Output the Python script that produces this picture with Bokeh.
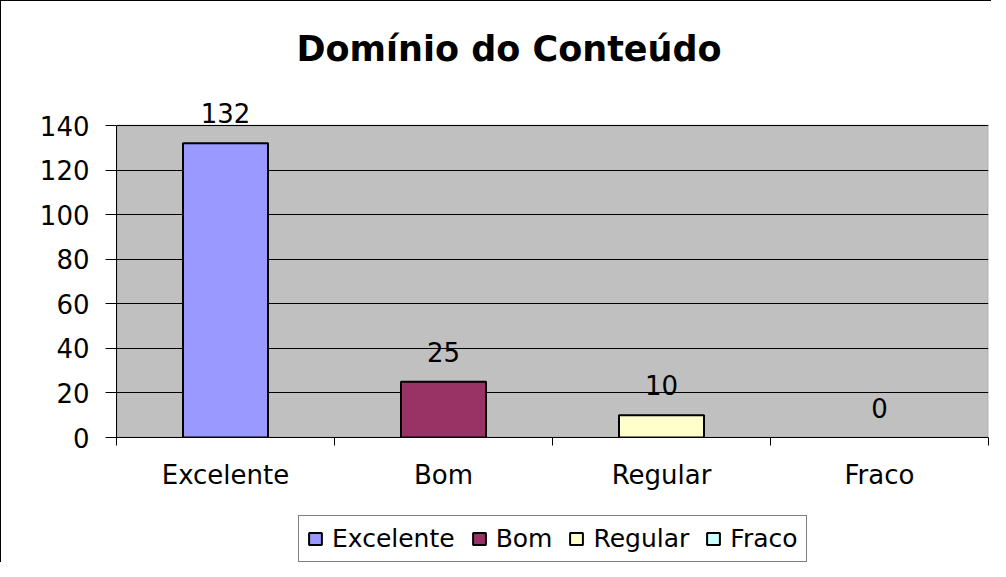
from bokeh.plotting import figure
from bokeh.layouts import column
from bokeh.models import (ColumnDataSource, Range1d, FixedTicker, Legend, LegendItem,
                          LabelSet, BoxAnnotation)
from bokeh.core.properties import value
from bokeh.embed import file_html
from bokeh.resources import INLINE

categories = ["Excelente", "Bom", "Regular", "Fraco"]
counts = [132, 25, 10, 0]
colors = ["#9999FF", "#993366", "#FFFFCC", "#CCFFFF"]
y_ticks = [0, 20, 40, 60, 80, 100, 120, 140]
title_text = "Domínio do Conteúdo"

FONT = "DejaVu Sans"

xs = [i + 0.5 for i in range(len(categories))]
src = ColumnDataSource(dict(x=xs, top=counts, color=colors, cat=categories,
                            lbl=[str(c) for c in counts],
                            la=[1.0 if c > 0 else 0.0 for c in counts]))

# geometry (pixels)
W = 990
AREA_H = 312          # height of the grey plotting area (0..140)
HEADROOM = 32         # space above the grey area for value labels
Y_MAX = y_ticks[-1]
y_top = Y_MAX + HEADROOM * Y_MAX / AREA_H

p = figure(width=W, height=496, output_backend="svg", toolbar_location=None,
           x_range=Range1d(0, len(categories)), y_range=Range1d(0, y_top),
           min_border_left=115, min_border_right=3, min_border_top=92,
           min_border_bottom=60)

p.title.text = title_text
p.title.text_font = FONT
p.title.text_font_size = "35px"
p.title.text_font_style = "bold"
p.title.text_color = "black"
p.title.align = "left"
p.title.offset = 180
p.title.standoff = 50

p.background_fill_color = "white"
p.border_fill_color = "white"
p.outline_line_color = None

# grey plotting area 0..140
area = BoxAnnotation(bottom=0, top=Y_MAX, fill_color="#C0C0C0", fill_alpha=1.0,
                     line_color="#808080", line_width=2, level="image")
p.add_layout(area)

# grid
p.xgrid.grid_line_color = None
p.ygrid.grid_line_color = "black"
p.ygrid.grid_line_width = 1
p.ygrid.ticker = FixedTicker(ticks=y_ticks)
p.ygrid.level = "underlay"

# y axis
p.yaxis.ticker = FixedTicker(ticks=y_ticks)
p.yaxis.bounds = (0, Y_MAX)
p.yaxis.axis_line_color = "black"
p.yaxis.major_tick_out = 11
p.yaxis.major_tick_in = 0
p.yaxis.minor_tick_line_color = None
p.yaxis.major_label_text_font = FONT
p.yaxis.major_label_text_font_size = "26px"
p.yaxis.major_label_text_color = "black"
p.yaxis.major_label_standoff = 16

# x axis: labels at centers, ticks at boundaries (minor ticks)
p.xaxis.ticker = FixedTicker(ticks=xs, minor_ticks=list(range(len(categories) + 1)))
p.xaxis.major_label_overrides = {x: c for x, c in zip(xs, categories)}
p.xaxis.major_tick_line_color = None
p.xaxis.major_tick_out = 8
p.xaxis.minor_tick_out = 8
p.xaxis.minor_tick_in = 0
p.xaxis.minor_tick_line_color = "black"
p.xaxis.axis_line_color = "black"
p.xaxis.major_label_text_font = FONT
p.xaxis.major_label_text_font_size = "26px"
p.xaxis.major_label_text_color = "black"
p.xaxis.major_label_standoff = 14

p.vbar(x="x", top="top", bottom=0, width=0.39, source=src,
       fill_color="color", line_color="black", line_width=2, line_alpha="la")

labels = LabelSet(x="x", y="top", text="lbl", source=src, text_align="center",
                  text_baseline="alphabetic", y_offset=20,
                  text_font=value(FONT), text_font_size=value("26px"),
                  text_color="black")
p.add_layout(labels)

# legend strip below the chart
lg = figure(width=W, height=65, output_backend="svg", toolbar_location=None,
            x_range=Range1d(0, 1), y_range=Range1d(0, 1),
            min_border_left=0, min_border_right=0, min_border_top=0,
            min_border_bottom=0)
lg.axis.visible = False
lg.grid.grid_line_color = None
lg.outline_line_color = None
lg.background_fill_color = "white"
lg.border_fill_color = "white"

r_leg = lg.vbar(x="x", top="top", bottom=0, width=0.39, source=src,
                fill_color="color", line_color="black", line_width=2)
r_leg.visible = False
items = [LegendItem(label=c, renderers=[r_leg], index=i) for i, c in enumerate(categories)]

legend = Legend(items=items, orientation="horizontal", location=(182, 0),
                label_text_font=FONT, label_text_font_size="25px",
                label_text_color="black",
                glyph_width=16, glyph_height=15, label_standoff=9, spacing=16,
                border_line_color="black", border_line_width=1,
                inactive_fill_alpha=0.0,
                padding=8, margin=0, background_fill_color="white")
lg.add_layout(legend, "center")

layout = column(p, lg, spacing=0,
                styles={"border-left": "1px solid black", "border-top": "1px solid black"})
open("out.html", "w").write(file_html(layout, INLINE))
